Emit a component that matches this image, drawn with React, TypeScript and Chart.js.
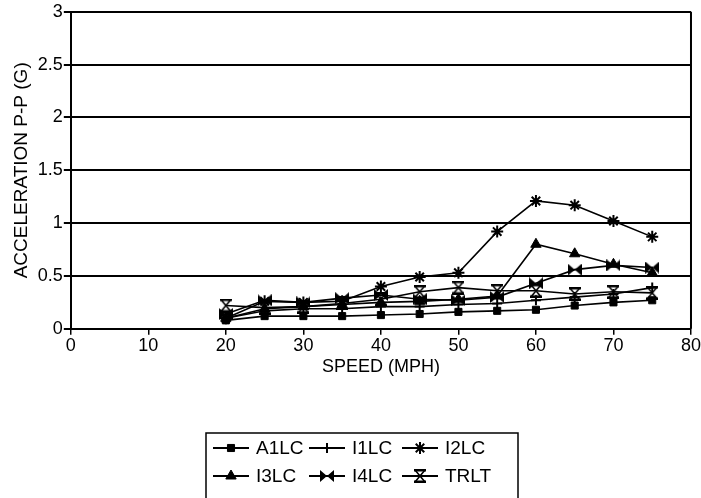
import React, { useEffect, useRef } from "react";
import { Chart, registerables } from "chart.js";
import { drawPoint } from "chart.js/helpers";

Chart.register(...registerables);

const speeds = [20, 25, 30, 35, 40, 45, 50, 55, 60, 65, 70, 75];
const A1LC = [0.08, 0.12, 0.12, 0.12, 0.13, 0.14, 0.16, 0.17, 0.18, 0.22, 0.25, 0.27];
const I1LC = [0.1, 0.17, 0.19, 0.19, 0.21, 0.21, 0.23, 0.24, 0.27, 0.3, 0.33, 0.39];
const I2LC = [0.1, 0.26, 0.25, 0.26, 0.4, 0.49, 0.53, 0.92, 1.21, 1.17, 1.02, 0.87];
const I3LC = [0.1, 0.19, 0.21, 0.23, 0.25, 0.26, 0.28, 0.31, 0.8, 0.71, 0.61, 0.53];
const I4LC = [0.14, 0.27, 0.25, 0.29, 0.32, 0.28, 0.27, 0.3, 0.43, 0.56, 0.6, 0.58];
const TRLT = [0.22, 0.2, 0.21, 0.24, 0.28, 0.35, 0.39, 0.36, 0.36, 0.33, 0.35, 0.34];
const seriesNames = ["A1LC", "I1LC", "I2LC", "I3LC", "I4LC", "TRLT"];
const seriesValues = [A1LC, I1LC, I2LC, I3LC, I4LC, TRLT];

const FONT = "'Liberation Sans', Arial, sans-serif";

function makeBowtie(): HTMLCanvasElement {
  const c = document.createElement("canvas");
  c.width = 14;
  c.height = 12;
  const g = c.getContext("2d")!;
  g.fillStyle = "#000";
  g.beginPath();
  g.moveTo(0, 0);
  g.lineTo(7, 6);
  g.lineTo(0, 12);
  g.closePath();
  g.moveTo(14, 0);
  g.lineTo(7, 6);
  g.lineTo(14, 12);
  g.closePath();
  g.fill();
  return c;
}

function makeHourglass(): HTMLCanvasElement {
  const c = document.createElement("canvas");
  c.width = 12;
  c.height = 14;
  const g = c.getContext("2d")!;
  g.fillStyle = "#fff";
  g.strokeStyle = "#000";
  g.lineWidth = 1.6;
  g.beginPath();
  g.moveTo(1, 1);
  g.lineTo(11, 1);
  g.lineTo(6, 7);
  g.closePath();
  g.moveTo(1, 13);
  g.lineTo(11, 13);
  g.lineTo(6, 7);
  g.closePath();
  g.fill();
  g.stroke();
  g.fillStyle = "#000";
  g.fillRect(0, 0, 12, 2.5);
  g.fillRect(0, 11.5, 12, 2.5);
  return c;
}

const legendPlugin = {
  id: "boxLegend",
  afterDraw(chart: any) {
    const ctx = chart.ctx as CanvasRenderingContext2D;
    const boxLeft = 206;
    const boxTop = 433;
    const boxRight = 518;
    ctx.save();
    ctx.strokeStyle = "#000";
    ctx.lineWidth = 1.5;
    ctx.beginPath();
    ctx.moveTo(boxLeft, chart.height + 5);
    ctx.lineTo(boxLeft, boxTop);
    ctx.lineTo(boxRight, boxTop);
    ctx.lineTo(boxRight, chart.height + 5);
    ctx.stroke();
    const cols = [213, 309, 402];
    const rows = [448, 476];
    ctx.font = `19px ${FONT}`;
    ctx.textBaseline = "middle";
    ctx.textAlign = "left";
    chart.data.datasets.forEach((ds: any, i: number) => {
      const x = cols[i % 3];
      const y = rows[Math.floor(i / 3)];
      const len = 36;
      ctx.strokeStyle = "#000";
      ctx.lineWidth = 2;
      ctx.beginPath();
      ctx.moveTo(x, y);
      ctx.lineTo(x + len, y);
      ctx.stroke();
      ctx.fillStyle = "#000";
      ctx.lineWidth = ds.pointBorderWidth || 1.5;
      drawPoint(
        ctx,
        { pointStyle: ds.pointStyle, radius: ds.pointRadius, rotation: 0, borderWidth: ds.pointBorderWidth || 1.5 },
        x + len / 2,
        y
      );
      ctx.fillStyle = "#000";
      ctx.fillText(ds.label, x + len + 7, y + 1);
    });
    // right border of the plot frame
    const a = chart.chartArea;
    ctx.strokeStyle = "#000";
    ctx.lineWidth = 2;
    ctx.beginPath();
    ctx.moveTo(a.right, a.top);
    ctx.lineTo(a.right, a.bottom);
    ctx.stroke();
    ctx.restore();
  },
};

export default function App() {
  const ref = useRef<HTMLCanvasElement | null>(null);
  useEffect(() => {
    if (!ref.current) return;
    const styles: any[] = ["rect", "cross", "star", "triangle", makeBowtie(), makeHourglass()];
    const radii = [5, 5, 6, 6, 6, 6];
    const datasets = seriesNames.map((name, i) => ({
      label: name,
      data: speeds.map((s, j) => ({ x: s, y: seriesValues[i][j] })),
      borderColor: "#000",
      backgroundColor: "#000",
      borderWidth: 1.6,
      pointStyle: styles[i],
      pointRadius: radii[i],
      pointBackgroundColor: "#000",
      pointBorderColor: "#000",
      pointBorderWidth: i === 2 || i === 1 ? 2 : 1,
      tension: 0,
      fill: false,
    }));
    const chart = new Chart(ref.current, {
      type: "line",
      data: { datasets },
      options: {
        animation: false,
        responsive: false,
        maintainAspectRatio: false,
        layout: { padding: { left: 10, right: 8, top: 0, bottom: 120 } },
        plugins: { legend: { display: false }, tooltip: { enabled: false } },
        scales: {
          x: {
            type: "linear",
            min: 0,
            max: 80,
            ticks: { stepSize: 10, color: "#000", font: { family: FONT, size: 18 }, padding: 0 },
            grid: { drawOnChartArea: false, drawTicks: true, tickLength: 6, color: "#000", lineWidth: 1.5 },
            border: { color: "#000", width: 2 },
            title: { display: true, text: "SPEED (MPH)", color: "#000", font: { family: FONT, size: 18 }, padding: { top: 0, bottom: 0 } },
          },
          y: {
            min: 0,
            max: 3,
            ticks: {
              stepSize: 0.5,
              color: "#000",
              font: { family: FONT, size: 18 },
              padding: 1,
              callback: (v: any) => String(Number(v)),
            },
            grid: { color: "#000", lineWidth: 2, drawTicks: true, tickLength: 7 },
            border: { color: "#000", width: 2 },
            title: { display: true, text: "ACCELERATION P-P (G)", color: "#000", font: { family: FONT, size: 19 }, padding: { top: 0, bottom: 4 } },
          },
        },
      },
      plugins: [legendPlugin],
    });
    return () => chart.destroy();
  }, []);
  return (
    <div style={{ position: "fixed", left: 0, top: 0, width: 701, height: 498, background: "#fff" }}>
      <canvas ref={ref} width={701} height={498} style={{ display: "block" }} />
    </div>
  );
}
